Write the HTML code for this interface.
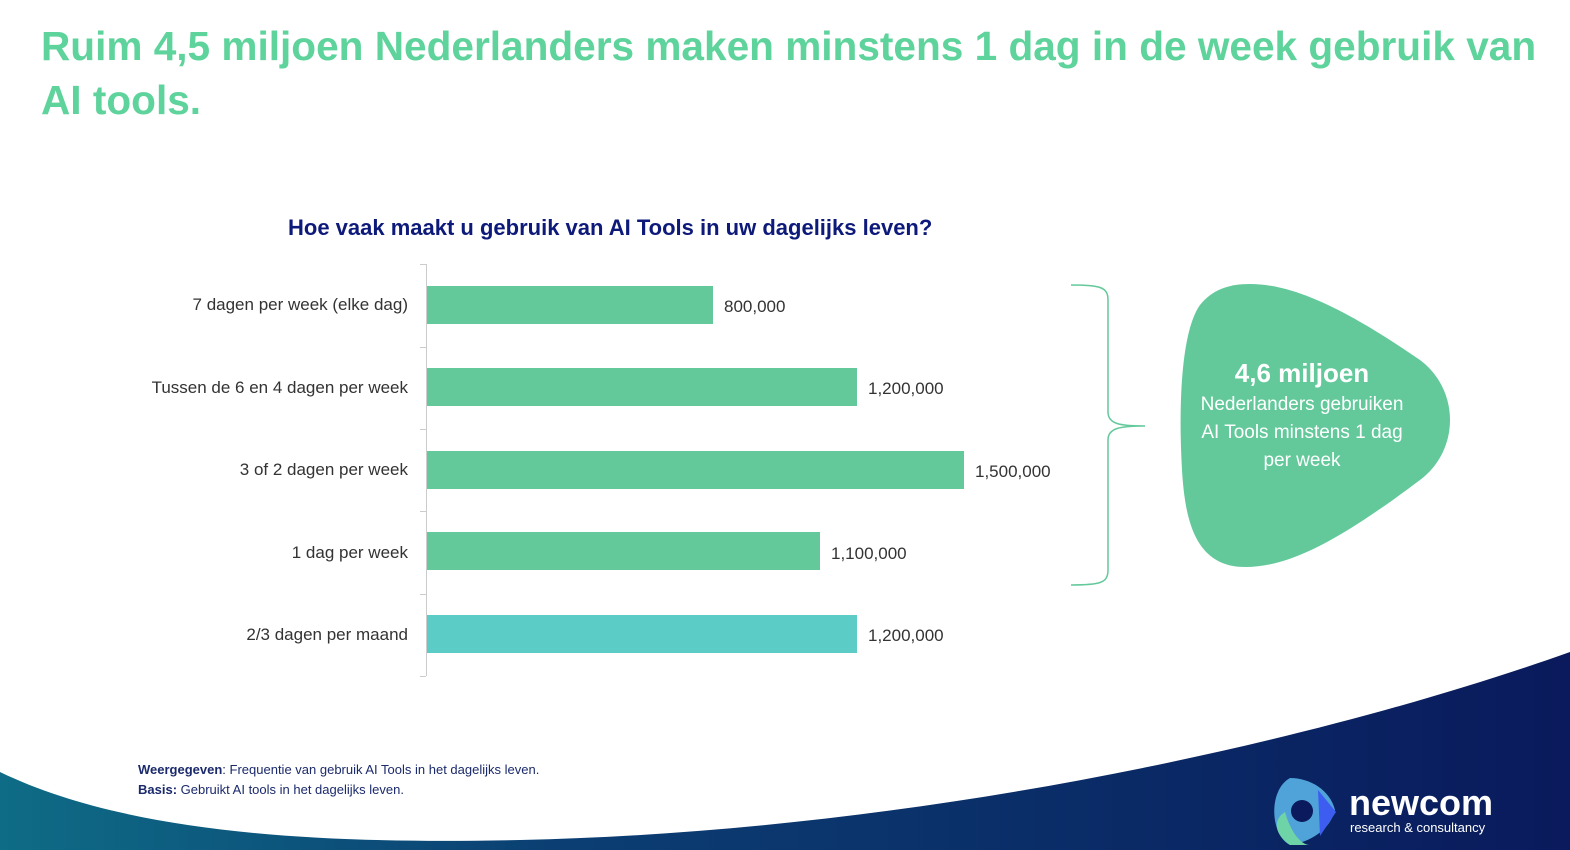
<!DOCTYPE html>
<html><head><meta charset="utf-8"><style>
body{margin:0;width:1570px;height:850px;overflow:hidden;background:#fff;font-family:"Liberation Sans",sans-serif;position:relative}
.t{position:absolute;left:41px;top:19px;width:1529px;color:#5fd39c;font-weight:bold;font-size:40.6px;line-height:54px;white-space:nowrap}
.q{position:absolute;left:288px;top:215px;color:#0d1a7a;font-weight:bold;font-size:22px}
.lab{position:absolute;right:1162px;font-size:17px;color:#333;text-align:right;white-space:nowrap}
.bar{position:absolute;left:427px;height:38px;background:#63c99b}
.val{position:absolute;font-size:17px;color:#333}
.f{position:absolute;left:138px;font-size:13px;color:#1b2a6b}
</style></head><body>
<div class="t">Ruim 4,5 miljoen Nederlanders maken minstens 1 dag in de week gebruik van<br>AI tools.</div>
<div class="q">Hoe vaak maakt u gebruik van AI Tools in uw dagelijks leven?</div>
<div style="position:absolute;left:426px;top:264px;width:1px;height:412px;background:#ccc"></div>
<div style="position:absolute;left:420px;top:264px;width:6px;height:1px;background:#ccc"></div>
<div style="position:absolute;left:420px;top:347px;width:6px;height:1px;background:#ccc"></div>
<div style="position:absolute;left:420px;top:429px;width:6px;height:1px;background:#ccc"></div>
<div style="position:absolute;left:420px;top:511px;width:6px;height:1px;background:#ccc"></div>
<div style="position:absolute;left:420px;top:594px;width:6px;height:1px;background:#ccc"></div>
<div style="position:absolute;left:420px;top:676px;width:6px;height:1px;background:#ccc"></div>
<div class="lab" style="top:295px">7 dagen per week (elke dag)</div>
<div class="lab" style="top:378px">Tussen de 6 en 4 dagen per week</div>
<div class="lab" style="top:460px">3 of 2 dagen per week</div>
<div class="lab" style="top:543px">1 dag per week</div>
<div class="lab" style="top:625px">2/3 dagen per maand</div>
<div class="bar" style="top:286px;width:286px"></div>
<div class="bar" style="top:368px;width:430px"></div>
<div class="bar" style="top:451px;width:537px"></div>
<div class="bar" style="top:532px;width:393px"></div>
<div class="bar" style="top:615px;width:430px;background:#5ccdc6"></div>
<div class="val" style="left:724px;top:297px">800,000</div>
<div class="val" style="left:868px;top:379px">1,200,000</div>
<div class="val" style="left:975px;top:462px">1,500,000</div>
<div class="val" style="left:831px;top:544px">1,100,000</div>
<div class="val" style="left:868px;top:626px">1,200,000</div>
<svg width="1570" height="850" style="position:absolute;left:0;top:0">
<defs><linearGradient id="g" x1="0" x2="1" y1="0" y2="0"><stop offset="0" stop-color="#0e6c86"/><stop offset="0.35" stop-color="#0b3f73"/><stop offset="1" stop-color="#0a1a5c"/></linearGradient></defs>
<path d="M1071,285 C1100,285 1108,287 1108,300 L1108,412 C1108,424 1120,426 1145,426 C1120,426 1108,428 1108,440 L1108,570 C1108,583 1100,585 1071,585" fill="none" stroke="#63c99b" stroke-width="1.5"/>
<path d="M1250,284 C1290,284 1340,305 1420,360 C1460,390 1460,450 1420,480 C1340,540 1290,567 1245,567 C1195,567 1185,520 1182,470 C1178,400 1182,330 1200,305 C1212,290 1228,284 1250,284 Z" fill="#63c99b"/>
<path d="M0,772 C120,830 300,845 520,840 C900,832 1300,748 1570,652 L1570,850 L0,850 Z" fill="url(#g)"/>
<path d="M1290,778 C1310,778 1330,790 1335,810 C1330,830 1310,842 1290,845 C1270,835 1268,790 1290,778 Z" fill="#4fa3d9"/>
<path d="M1285,812 C1290,830 1300,845 1310,845 L1290,845 C1275,835 1272,820 1285,812 Z" fill="#6fd3a8"/>
<path d="M1318,790 L1336,812 L1320,836 Z" fill="#3c5df0"/>
<circle cx="1302" cy="811" r="11" fill="#0a1a5c"/>
</svg>
<div style="position:absolute;left:1160px;top:356px;width:284px;text-align:center;color:#fff;font-size:19px;line-height:28px;white-space:nowrap"><b style="font-size:26px;line-height:34px">4,6 miljoen</b><br>Nederlanders gebruiken<br>AI Tools minstens 1 dag<br>per week</div>
<div class="f" style="top:762px"><b>Weergegeven</b>: Frequentie van gebruik AI Tools in het dagelijks leven.</div>
<div class="f" style="top:782px"><b>Basis:</b> Gebruikt AI tools in het dagelijks leven.</div>
<div style="position:absolute;left:1349px;top:783px;color:#fff;font-weight:bold;font-size:36px;line-height:40px">newcom</div>
<div style="position:absolute;left:1350px;top:820px;color:#fff;font-size:13px">research &amp; consultancy</div>
</body></html>
